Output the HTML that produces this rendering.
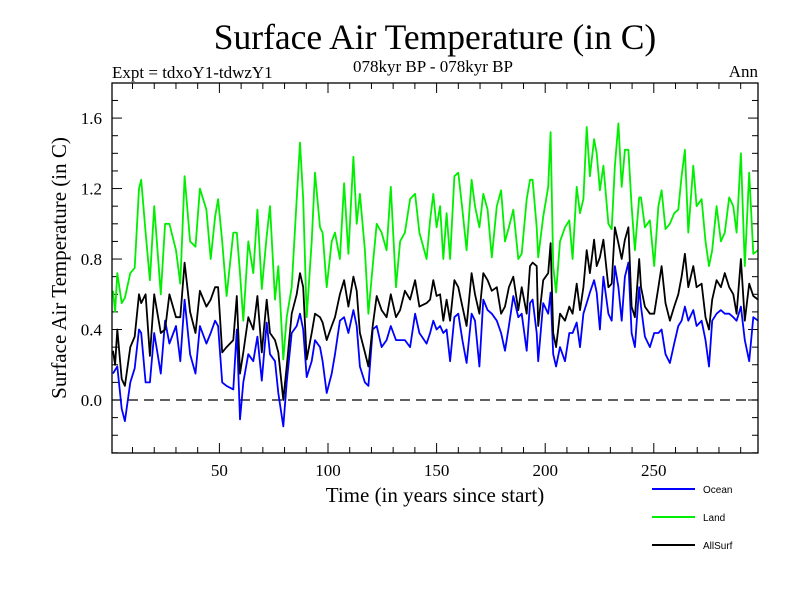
<!DOCTYPE html>
<html><head><meta charset="utf-8"><style>
html,body{margin:0;padding:0;background:#fff;}
svg text{font-family:"Liberation Serif",serif;}
</style></head><body>
<svg id="chart" width="800" height="600" xmlns="http://www.w3.org/2000/svg">
<rect width="800" height="600" fill="#fff"/>
<text x="435" y="49" font-size="35.5" text-anchor="middle">Surface Air Temperature (in C)</text>
<text x="112" y="78" font-size="17">Expt = tdxoY1-tdwzY1</text>
<text x="433" y="72" font-size="17" text-anchor="middle">078kyr BP - 078kyr BP</text>
<text x="758" y="77" font-size="17" text-anchor="end">Ann</text>
<g id="axes"></g>
<g id="series" clip-path="url(#clip)"></g>
<defs><clipPath id="clip"><rect x="112" y="83" width="646" height="370"/></clipPath></defs>
<rect x="112" y="83" width="646" height="370" fill="none" stroke="#000" stroke-width="1.3"/>
<text transform="translate(66,268) rotate(-90)" font-size="21" text-anchor="middle">Surface Air Temperature (in C)</text>
<text x="435" y="502" font-size="21" text-anchor="middle">Time (in years since start)</text>
<g id="legend"></g>
</svg>
<script>
const years=[1,2,3,5,6.5,9,11,13,14,16,18,20,23,25,27,30,32,34,36.5,39,41,44,46,48,
49.4,51.3,53.3,56.4,58,59.5,61,63.3,65.6,67.5,69.5,71.8,73.3,75.6,77.1,79.4,81,83.3,85.6,87.1,88.6,90.2,92.5,94,96.3,
97.5,99.4,101.7,103.2,105.5,107.4,109.4,111.7,113.2,114.7,117,118.6,120.6,122.4,124.7,127,128.9,131.3,133.2,135.4,137.8,140.1,142.1,
145.4,147,148.5,150,151.6,153.1,154.6,156.2,158.2,160,161.9,163.8,166.1,167.7,169.7,171.5,173.5,175.4,177.7,179.7,181.5,183.3,185.3,187.6,189.2,191.5,193,
194.2,196.1,196.8,199.1,201.4,202.5,203.7,205,206.8,209.1,211.1,212.6,214.5,216,217.6,219.1,220.6,222.5,223.7,225.2,226.8,229.1,230.6,232.1,233.7,235.2,236.7,238.3,239.8,241.3,243.3,
244.1,245.9,248.2,250.2,252.1,253.6,255.4,257.4,259.4,261.3,262.8,264.3,265.9,268.2,269.7,272,273.8,275.4,276.9,278.9,280.9,282.7,284.7,286.6,288.1,290.1,291.9,293.9,295.8,298];
const land=[.62,.5,.72,.55,.58,.72,.75,1.2,1.25,.95,.68,1.1,.6,1.0,1.0,.85,.66,1.27,.9,.87,1.2,1.08,.8,1.04,
1.14,.9,.59,.95,.95,.72,.45,.9,.72,1.08,.63,.93,1.1,.57,.76,.23,.47,.64,1.14,1.46,1.14,.47,.9,1.29,.98,
.95,.64,.9,.95,.8,1.23,.83,1.38,1.0,1.17,.85,.49,.76,1.0,.95,.85,1.21,.64,.9,.95,1.14,1.17,.95,
.8,1.02,1.17,.98,1.1,.8,1.06,.8,1.27,1.29,1.08,.85,1.25,1.1,.98,1.17,1.08,.81,1.1,1.19,.9,.98,1.08,.8,.83,1.14,1.25,
1.25,.98,.81,1.04,1.21,1.52,.76,.61,.9,.98,1.02,.8,1.21,1.06,1.14,1.55,1.27,1.48,1.4,1.19,1.33,1.0,.97,1.33,1.57,1.21,1.42,1.42,1.1,.85,1.15,
1.15,.98,1.02,.76,1.1,1.19,.97,1.0,1.06,1.08,1.27,1.42,.95,1.33,1.1,1.14,.9,.76,.85,1.1,.9,.95,1.15,1.1,.95,1.4,.76,1.29,.83,.85];
const allSurf=[.28,.2,.4,.12,.08,.3,.36,.6,.55,.6,.25,.6,.38,.4,.6,.47,.47,.78,.5,.38,.62,.53,.57,.64,
.64,.27,.3,.34,.59,.15,.27,.47,.4,.59,.27,.57,.38,.34,.27,0,.19,.49,.6,.72,.64,.23,.38,.49,.47,
.44,.34,.42,.47,.6,.68,.53,.7,.62,.38,.27,.19,.42,.59,.51,.47,.6,.47,.51,.62,.57,.68,.53,
.55,.57,.68,.59,.6,.45,.57,.45,.68,.64,.53,.42,.72,.6,.49,.72,.68,.62,.64,.49,.53,.64,.7,.51,.64,.49,.76,
.78,.76,.42,.68,.72,.89,.38,.3,.49,.45,.53,.49,.66,.51,.64,.85,.72,.91,.76,.81,.91,.64,.66,.98,.89,.8,.91,.98,.53,.47,.8,
.64,.53,.49,.49,.64,.76,.55,.45,.53,.6,.7,.83,.64,.76,.64,.66,.47,.4,.57,.68,.64,.72,.64,.6,.49,.8,.45,.66,.59,.57];
const ocean=[.15,.17,.19,-.05,-.12,.1,.18,.4,.38,.1,.1,.38,.15,.45,.32,.42,.22,.57,.26,.15,.42,.32,.38,.45,
.42,.1,.08,.06,.4,-.11,.1,.26,.22,.36,.11,.44,.26,.22,.04,-.15,.1,.38,.42,.49,.4,.13,.22,.34,.3,
.22,.04,.15,.26,.45,.47,.38,.51,.42,.19,.1,.08,.4,.42,.3,.34,.42,.34,.34,.34,.3,.49,.38,
.32,.38,.45,.4,.42,.38,.4,.22,.47,.49,.34,.21,.49,.45,.19,.57,.51,.49,.45,.38,.28,.42,.59,.47,.49,.28,.55,
.57,.38,.22,.55,.49,.61,.26,.19,.3,.22,.38,.38,.44,.3,.49,.55,.61,.68,.61,.4,.7,.49,.45,.76,.64,.45,.7,.78,.38,.3,.64,
.53,.36,.3,.38,.38,.4,.26,.21,.32,.42,.45,.53,.45,.51,.42,.45,.34,.19,.45,.49,.51,.49,.49,.47,.45,.53,.34,.22,.47,.45];
const yTicks=[0.0,0.4,0.8,1.2,1.6];
const xTicks=[50,100,150,200,250];
const NS='http://www.w3.org/2000/svg';
const X0=112,X1=758,Y0=83,Y1=453;
function xs(t){return 219.4+(t-50)*2.172;}
function ys(v){return 400-v*176.2;}
function mk(tag,attrs,parent){const e=document.createElementNS(NS,tag);for(const k in attrs)e.setAttribute(k,attrs[k]);parent.appendChild(e);return e;}
const axes=document.getElementById('axes');
for(let i=-3;i<=17;i++){const v=i/10;const y=ys(v);if(y<Y0||y>Y1)continue;const major=(i%4===0);const len=major?10:6;
 const l=mk('line',{x1:X0,x2:X0+len,y1:y,y2:y,stroke:'#000','stroke-width':1},axes);
 
 
 const r=mk('line',{x1:X1,x2:X1-len,y1:y,y2:y,stroke:'#000','stroke-width':1},axes);
 
 }
yTicks.forEach(v=>{const t=mk('text',{x:X0-10,y:ys(v)+6,'font-size':17,'text-anchor':'end'},axes);t.textContent=v.toFixed(1);
 
 });
for(let yr=10;yr<=290;yr+=10){const x=xs(yr);const major=(yr%50===0);const len=major?10:6;
 const l=mk('line',{x1:x,x2:x,y1:Y1,y2:Y1-len,stroke:'#000','stroke-width':1},axes);
 
 
 const u=mk('line',{x1:x,x2:x,y1:Y0,y2:Y0+len,stroke:'#000','stroke-width':1},axes);
 
 }
xTicks.forEach(v=>{const t=mk('text',{x:xs(v),y:476,'font-size':17,'text-anchor':'middle'},axes);t.textContent=v;
 
 });
const zl=mk('line',{x1:X0,x2:X1,y1:ys(0),y2:ys(0),stroke:'#000','stroke-width':1.2,'stroke-dasharray':'10,6'},axes);


const series=document.getElementById('series');
function draw(vals,color,name){const d=years.map((t,i)=>(i?'L':'M')+xs(t).toFixed(1)+','+ys(vals[i]).toFixed(1)).join('');
 const p=mk('path',{d:d,fill:'none',stroke:color,'stroke-width':1.8,'stroke-linejoin':'round'},series);
 
 }
draw(land,'#00ee00','land-line');
draw(ocean,'#0000ff','ocean-line');
draw(allSurf,'#000000','allsurf-line');
const legend=document.getElementById('legend');
[['Ocean','#0000ff',489],['Land','#00ee00',517],['AllSurf','#000000',545]].forEach(([n,c,y])=>{
 const l=mk('line',{x1:652,x2:695,y1:y,y2:y,stroke:c,'stroke-width':2},legend);
 
 
 const t=mk('text',{x:703,y:y+4,'font-size':10,style:'font-family:"Liberation Sans",sans-serif'},legend);t.textContent=n;
 
 });
</script>
</body></html>
